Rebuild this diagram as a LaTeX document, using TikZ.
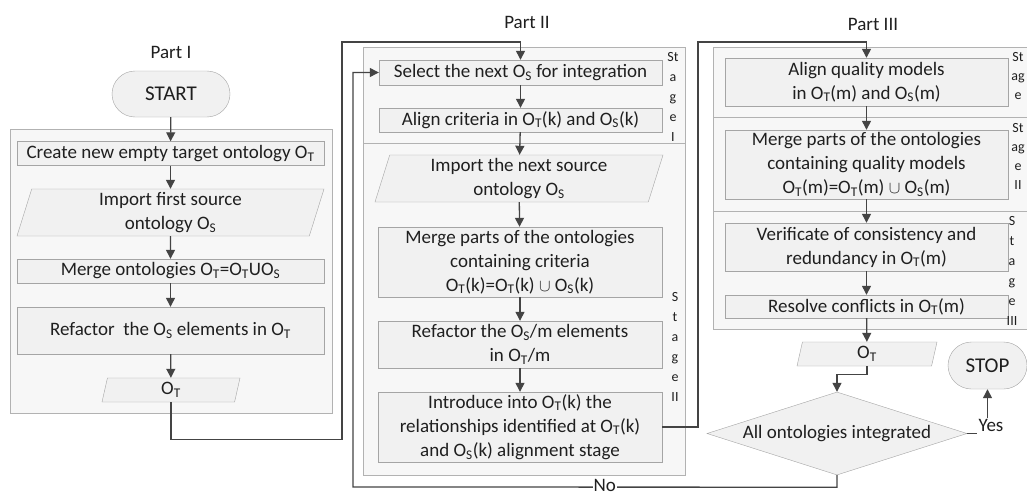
\documentclass[tikz,border=0pt]{standalone}
\usepackage{fontspec}
\setmainfont{Carlito}
\usetikzlibrary{arrows.meta}
\usetikzlibrary{shapes.geometric}
\usetikzlibrary{shapes.misc}
\definecolor{BoxGray}{RGB}{165,165,165}
\definecolor{BoxFill}{RGB}{241,241,241}
\definecolor{GrpFill}{RGB}{247,247,247}
\definecolor{LineGray}{RGB}{68,68,68}
\newcommand{\OT}{O\textsubscript{T}}
\newcommand{\OS}{O\textsubscript{S}}

\begin{document}
\begin{tikzpicture}[x=1pt, y=-1pt]
	\tikzstyle{every node} = [font=\fontsize{19}{24}\selectfont, text=black!88]
	\tikzstyle{proc} = [draw=BoxGray, fill=BoxFill, rectangle, align=center, inner sep=0pt, minimum width=307, minimum height=24]
	\tikzstyle{io} = [draw=BoxGray, fill=BoxFill, trapezium, trapezium left angle=70, trapezium right angle=110, trapezium stretches body, align=center, inner sep=0pt, minimum width=307, minimum height=47]
	\tikzstyle{term} = [draw=BoxGray, fill=BoxFill, rounded rectangle, minimum width=118, minimum height=46, inner sep=0pt, font=\fontsize{21}{24}\selectfont]
	\tikzstyle{decide} = [draw=BoxGray, fill=BoxFill, diamond, aspect=3.1, inner sep=0pt, inner xsep=-12pt, minimum width=260, minimum height=83]
	\tikzstyle{grp} = [draw=BoxGray!85, fill=GrpFill]
	\tikzstyle{stg} = [font=\fontsize{14}{20}\selectfont, align=center, inner sep=0pt]
	\tikzstyle{arr} = [draw=LineGray, line width=1.3, -{Triangle[length=9pt,width=9pt]}]
	\tikzstyle{lnk} = [draw=LineGray, line width=1.3]

	\fill[white] (0,0) rectangle (1027,495);
	\useasboundingbox (0,0) rectangle (1027,495);
	\clip (0,0) rectangle (1027,495);

	% group frames
	\draw[grp] (10,129) rectangle (332,413);
	\draw[grp] (363,47) rectangle (685,143);
	\draw[grp] (363,143) rectangle (685,475);
	\draw[grp] (713,47) rectangle (1040,117);
	\draw[grp] (713,117) rectangle (1040,211);
	\draw[grp] (713,211) rectangle (1040,329);

	% Part I
	\node (p1) at (171,52) {Part I};
	\node[term] (start) at (171,94) {START};
	\node[proc] (create) at (170.5,153.5) {Create new empty target ontology \OT};
	\node[io] (imp1) at (170.5,212.5) {Import first source\\ontology \OS};
	\node[proc] (merge1) at (170.5,271) {Merge ontologies \OT=\OT U\OS};
	\node[proc, minimum height=47] (ref1) at (170.5,330.5) {Refactor~ the \OS{} elements in \OT};
	\node[io, minimum width=138, minimum height=24] (out1) at (171,390) {\OT};

	% Part II
	\node (p2) at (527,22) {Part II};
	\node[proc, minimum width=283, minimum height=25] (sel) at (520.5,72.5) {Select the next \OS{} for integration};
	\node[proc, minimum width=283] (alc) at (520.5,120) {Align criteria in \OT(k) and \OS(k)};
	\node[io, minimum width=288] (imp2) at (519,178.5) {Import the next source\\ontology \OS};
	\node[proc, minimum width=284, minimum height=70] (merge2) at (520,262) {Merge parts of the ontologies\\containing criteria\\\OT(k)=\OT(k) $\cup$ \OS(k)};
	\node[proc, minimum width=284, minimum height=47] (ref2) at (520,344.5) {Refactor the \OS/m elements\\in \OT/m};
	\node[proc, minimum width=284, minimum height=70] (intro) at (520,427) {Introduce into \OT(k) the\\relationships identified at \OT(k)\\and \OS(k) alignment stage};
	\node[stg] (st1) at (673,97) {St\\a\\g\\e\\I};
	\node[stg] (st2) at (675,347) {S\\t\\a\\g\\e\\II};

	% Part III
	\node (p3) at (873,24) {Part III};
	\node[proc, minimum width=283, minimum height=48] (alq) at (866.5,82) {Align quality models\\in \OT(m) and \OS(m)};
	\node[proc, minimum width=283, minimum height=69] (merge3) at (866.5,164.5) {Merge parts of the ontologies\\containing quality models\\\OT(m)=\OT(m) $\cup$ \OS(m)};
	\node[proc, minimum width=283, minimum height=48] (ver) at (866.5,247) {Verificate of consistency and\\redundancy in \OT(m)};
	\node[proc, minimum width=283, minimum height=23] (res) at (866.5,306.5) {Resolve conflicts in \OT(m)};
	\node[stg, font=\fontsize{14}{19}\selectfont] (st3a) at (1018,76) {St\\ag\\e};
	\node[stg, font=\fontsize{14}{19}\selectfont] (st3b) at (1018,156) {St\\ag\\e\\II};
	\node[stg] (st3c) at (1012,271) {S\\t\\a\\g\\e\\III};
	\node[io, minimum width=140, minimum height=24] (out3) at (867,354) {\OT};
	\node[decide] (all) at (837,433.5) {All ontologies integrated};
	\node[term, minimum width=79, minimum height=47] (stop) at (987.5,365.5) {STOP};
	\node[inner sep=1pt] (yes) at (991,425) {Yes};

	% flow
	\draw[arr] (start) -- (create);
	\draw[arr] (create) -- (imp1);
	\draw[arr] (imp1) -- (merge1);
	\draw[arr] (merge1) -- (ref1);
	\draw[arr] (ref1) -- (out1);
	\draw[arr] (out1.south) -- ++(0,37) -| (342,42) -| (sel.north);

	\draw[arr] (sel) -- (alc);
	\draw[arr] (alc) -- (imp2);
	\draw[arr] (imp2) -- (merge2);
	\draw[arr] (merge2) -- (ref2);
	\draw[arr] (ref2) -- (intro);
	\draw[arr] (intro.east) -| (698,42) -| (alq.north);

	\draw[arr] (alq) -- (merge3);
	\draw[arr] (merge3) -- (ver);
	\draw[arr] (ver) -- (res);
	\draw[arr] (res) -- (out3);
	\draw[arr] (out3.south) -- ++(0,8) -| (all.north);

	\draw[lnk] (all.east) -- (yes.west |- all.east);
	\draw[arr] (yes.north -| stop.south) -- (stop.south);
	\draw[arr] (all.south) -- ++(0,12) -- node[pos=0.48, fill=white, inner sep=1pt, yshift=2pt] (no) {No} (353,487) |- (sel.west);
\end{tikzpicture}
\end{document}
